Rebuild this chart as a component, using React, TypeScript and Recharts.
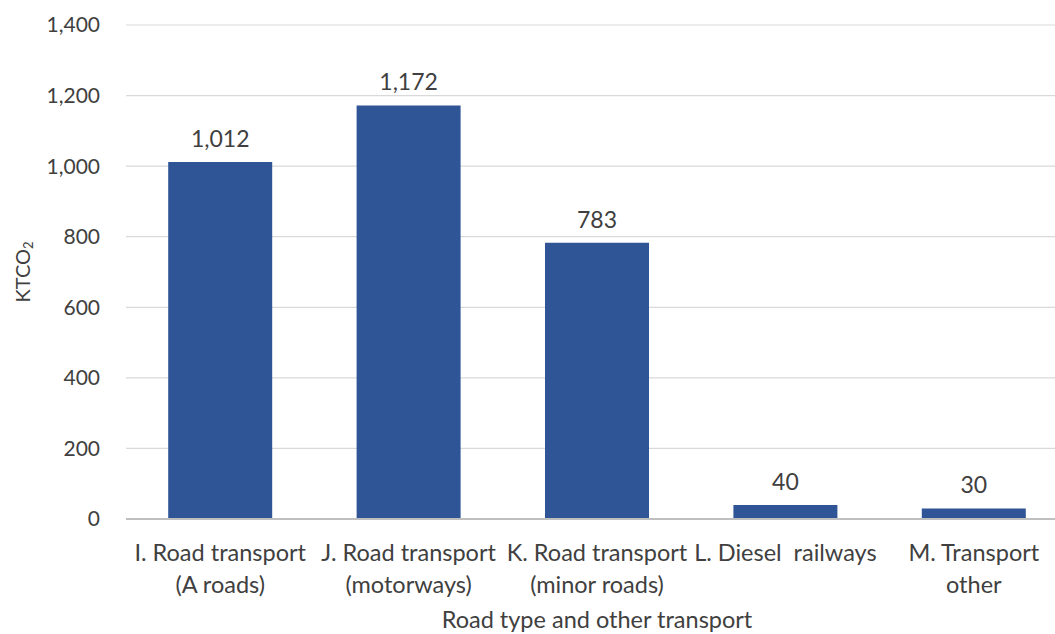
import { BarChart, Bar, XAxis, YAxis, CartesianGrid, LabelList } from "recharts";

const categories = [
  "I. Road transport\n(A roads)",
  "J. Road transport\n(motorways)",
  "K. Road transport\n(minor roads)",
  "L. Diesel  railways",
  "M. Transport\nother",
];
const values = [1012, 1172, 783, 40, 30];
const yTicks = [0, 200, 400, 600, 800, 1000, 1200, 1400];

const data = categories.map((name, i) => ({ name, value: values[i] }));

const FONT = "Lato, 'Open Sans', sans-serif";
const TEXT = "#404040";

const fmt = (v: number) => v.toLocaleString("en-US");

const CategoryTick = (props: any) => {
  const { x, y, payload } = props;
  const lines = String(payload.value).split("\n");
  return (
    <text x={x} y={y} textAnchor="middle" fill={TEXT} fontSize={23.5} fontFamily={FONT} style={{ whiteSpace: "pre" }}>
      {lines.map((l, i) => (
        <tspan key={i} x={x} dy={i === 0 ? 40 : 32}>
          {l}
        </tspan>
      ))}
    </text>
  );
};

const YTitle = (props: any) => {
  const vb = props.viewBox || {};
  const cy = vb.y + vb.height / 2;
  const cx = 22;
  return (
    <text
      x={cx}
      y={cy}
      transform={`rotate(-90, ${cx}, ${cy})`}
      textAnchor="middle"
      dominantBaseline="central"
      fill={TEXT}
      fontSize={20}
      fontFamily={FONT}
    >
      KTCO<tspan fontSize={13} dy={6}>2</tspan>
    </text>
  );
};

export default function App() {
  return (
    <div style={{ position: "absolute", left: 0, top: 0, width: 1055, height: 634, overflow: "hidden", background: "#fff" }}>
      <BarChart
        width={1068}
        height={634}
        data={data}
        margin={{ top: 25, right: 0, left: 0, bottom: 0 }}
        barCategoryGap="22.4%"
      >
        <CartesianGrid vertical={false} stroke="#d9d9d9" strokeWidth={1.2} />
        <XAxis
          dataKey="name"
          height={115}
          interval={0}
          tickLine={false}
          tickSize={0}
          axisLine={{ stroke: "#bfbfbf", strokeWidth: 2 }}
          tick={<CategoryTick />}
          label={{
            value: "Road type and other transport",
            position: "insideBottom",
            offset: 6,
            fill: TEXT,
            fontSize: 23.5,
            fontFamily: FONT,
          }}
        />
        <YAxis
          width={126}
          domain={[0, 1400]}
          ticks={yTicks}
          interval={0}
          axisLine={false}
          tickLine={false}
          tickSize={0}
          tickMargin={26}
          tickFormatter={fmt}
          tick={{ fill: TEXT, fontSize: 21, fontFamily: FONT }}
          label={<YTitle />}
        />
        <Bar dataKey="value" fill="#2F5597" isAnimationActive={false}>
          <LabelList
            dataKey="value"
            position="top"
            offset={15}
            formatter={(v: any) => fmt(Number(v))}
            fill={TEXT}
            fontSize={23}
            fontFamily={FONT}
          />
        </Bar>
      </BarChart>
    </div>
  );
}
